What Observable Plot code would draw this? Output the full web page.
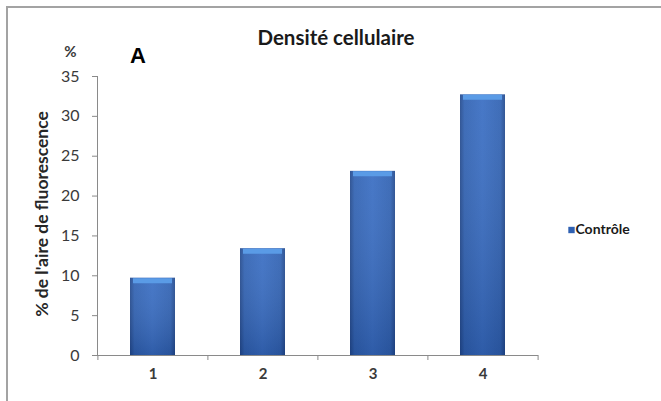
<!DOCTYPE html>
<html><head><meta charset="utf-8">
<script src="https://cdn.jsdelivr.net/npm/d3@7"></script>
<script src="https://cdn.jsdelivr.net/npm/@observablehq/plot@0.6"></script>
<style>
body{margin:0;background:#fff;}
#wrap{position:relative;width:661px;height:401px;overflow:hidden;background:#fff;}
#border{position:absolute;left:6px;top:6px;width:700px;height:440px;border-top:2px solid #a3a3a3;border-left:2px solid #a3a3a3;pointer-events:none;}
#wrap svg{position:absolute;left:0;top:0;}
</style></head><body><div id="wrap"><div id="border"></div></div>
<script>
const categories = ["1", "2", "3", "4"];
const values = [9.7, 13.4, 23.1, 32.7];
const yTicks = [0, 5, 10, 15, 20, 25, 30, 35];
const title = "Densité cellulaire";
const panelLabel = "A";
const yUnit = "%";
const yLabel = "% de l'aire de fluorescence";
const seriesName = "Contrôle";

const data = categories.map((c, i) => ({cat: c, value: values[i]}));

const defs = () => {
  const d = d3.create("svg:defs");
  const g = d.append("linearGradient").attr("id", "barGrad").attr("x1", "0").attr("x2", "1").attr("y1", "0").attr("y2", "0");
  [["0%", "#21488c"], ["10%", "#2f61b2"], ["50%", "#376cc2"], ["90%", "#2f61b2"], ["100%", "#21488c"]]
    .forEach(([o, c]) => g.append("stop").attr("offset", o).attr("stop-color", c));
  const v = d.append("linearGradient").attr("id", "vGrad").attr("x1", "0").attr("x2", "0").attr("y1", "0").attr("y2", "1");
  [["0%", "#ffffff", 0.08], ["100%", "#0a1a40", 0.2]]
    .forEach(([o, c, op]) => v.append("stop").attr("offset", o).attr("stop-color", c).attr("stop-opacity", op));
  return d.node();
};

const txt = "#3a3a3a";
const plot = Plot.plot({
  width: 661, height: 401,
  marginLeft: 97, marginRight: 123, marginTop: 76, marginBottom: 46,
  style: {background: "transparent", fontFamily: "Lato, sans-serif", overflow: "visible"},
  x: {domain: categories, paddingInner: 0.59, paddingOuter: 0.295, label: null},
  y: {domain: [0, 35], label: null},
  marks: [
    defs,
    Plot.barY(data, {x: "cat", y: "value", fill: "url(#barGrad)"}),
    Plot.barY(data, {x: "cat", y: "value", fill: "url(#vGrad)"}),
    Plot.tickY(data, {x: "cat", y: "value", stroke: "#5a9be6", strokeWidth: 5, dy: 2.5, insetLeft: 3, insetRight: 3}),
    Plot.frame({anchor: "left", stroke: "#8a8a8a"}),
    Plot.ruleY([0], {stroke: "#8a8a8a"}),
    Plot.axisY({ticks: yTicks, tickSize: 5, tickPadding: 13, fontSize: 16, fill: txt, stroke: "#8a8a8a", label: null}),
    Plot.axisX({tickSize: 0, tickPadding: 13, fontSize: 15, fontWeight: "bold", fill: txt, label: null}),
    Plot.axisX({tickSize: 5, tickFormat: () => "", dx: -55.1, stroke: "#8a8a8a", label: null}),
    Plot.axisX({ticks: ["4"], tickSize: 5, tickFormat: () => "", dx: 55.1, stroke: "#8a8a8a", label: null}),
    Plot.text([title], {frameAnchor: "top", dx: 18, dy: -38, fontSize: 20.5, fontWeight: "bold", fill: "#1a1a1a", lineAnchor: "middle", textAnchor: "middle"}),
    Plot.text([panelLabel], {frameAnchor: "top-left", dx: 40.5, dy: -21, fontSize: 22, fontWeight: "bold", fill: "#000", fontFamily: "Liberation Sans, Arial, sans-serif", lineAnchor: "middle", textAnchor: "middle"}),
    Plot.text([yUnit], {frameAnchor: "top-left", dx: -27, dy: -24, fontSize: 15, fontWeight: "bold", fill: txt, lineAnchor: "middle", textAnchor: "middle"}),
    Plot.text([yLabel], {frameAnchor: "left", dx: -55, dy: -2, rotate: -90, fontSize: 17.5, fontWeight: "bold", fill: "#262626", lineAnchor: "middle", textAnchor: "middle"}),
    Plot.dot([seriesName], {frameAnchor: "right", dx: 33, dy: 14, r: 3.6, symbol: "square", fill: "#2f61b2", stroke: null}),
    Plot.text([seriesName], {frameAnchor: "right", dx: 37, dy: 14, textAnchor: "start", fontSize: 14, fontWeight: "bold", fill: "#1a1a1a", lineAnchor: "middle"})
  ]
});
document.getElementById("wrap").appendChild(plot);
</script></body></html>
